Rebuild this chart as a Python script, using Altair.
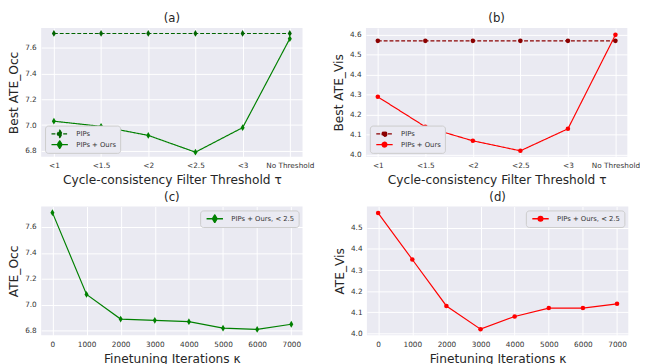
import altair as alt
import pandas as pd

thresholds = ["<1", "<1.5", "<2", "<2.5", "<3", "No Threshold"]
occ_pips = [7.71, 7.71, 7.71, 7.71, 7.71, 7.71]
occ_ours = [7.03, 6.99, 6.92, 6.79, 6.98, 7.67]
vis_pips = [4.57, 4.57, 4.57, 4.57, 4.57, 4.57]
vis_ours = [4.29, 4.14, 4.07, 4.02, 4.13, 4.60]
iters = [0, 1000, 2000, 3000, 4000, 5000, 6000, 7000]
occ_ft = [7.71, 7.08, 6.89, 6.88, 6.87, 6.82, 6.81, 6.85]
vis_ft = [4.57, 4.35, 4.13, 4.02, 4.08, 4.12, 4.12, 4.14]

series = ["PIPs", "PIPs + Ours"]
FONT = "DejaVu Sans"
W, H = 268, 132

DIAMOND = "M0,-1L0.6,0L0,1L-0.6,0Z"
LEG_DIAMOND = "M-2.1,0L2.1,0M0,-1L0.6,0L0,1L-0.6,0Z"
LEG_CIRCLE = "M-2.1,0L2.1,0M0.6,0A0.6,0.6,0,1,1,-0.6,0A0.6,0.6,0,1,1,0.6,0Z"


def legend(orient, sym):
    return alt.Legend(title=None, orient=orient, offset=4, symbolType=sym,
                      symbolSize=64, symbolStrokeWidth=1.4, labelFontSize=7,
                      labelOffset=12, symbolOffset=6, rowPadding=2, clipHeight=9,
                      padding=4, fillColor="#EAEAF2", strokeColor="#CCCCCC",
                      cornerRadius=3, labelColor="#333333", labelFont=FONT)


def thr_panel(pips, ours, title, ytitle, ydom, yvals, cols, shape, msize, lsym, pad):
    df = pd.DataFrame({"thr": thresholds * 2, "val": pips + ours,
                       "series": [series[0]] * 6 + [series[1]] * 6})
    lg = legend("bottom-left", lsym)
    return alt.Chart(df, title=title).mark_line(
        strokeWidth=1.2,
        point=alt.OverlayMarkDef(shape=shape, size=msize, filled=True, strokeWidth=0),
    ).encode(
        x=alt.X("thr:N", sort=thresholds, title="Cycle-consistency Filter Threshold τ",
                scale=alt.Scale(type="point", padding=pad),
                axis=alt.Axis(labelAngle=0)),
        y=alt.Y("val:Q", title=ytitle, scale=alt.Scale(domain=ydom, zero=False, nice=False),
                axis=alt.Axis(values=yvals, format=".1f")),
        color=alt.Color("series:N", scale=alt.Scale(domain=series, range=cols), legend=lg),
        strokeDash=alt.StrokeDash("series:N", scale=alt.Scale(domain=series, range=[[4, 2], [1, 0]]), legend=lg),
    ).properties(width=W, height=H)


def ft_panel(vals, title, ytitle, ydom, yvals, col, shape, msize, lsym):
    df = pd.DataFrame({"it": iters, "val": vals, "series": ["PIPs + Ours, < 2.5"] * len(iters)})
    return alt.Chart(df, title=title).mark_line(
        strokeWidth=1.2,
        point=alt.OverlayMarkDef(shape=shape, size=msize, filled=True, strokeWidth=0),
    ).encode(
        x=alt.X("it:Q", title="Finetuning Iterations κ",
                scale=alt.Scale(domain=[-330, 7330], nice=False, zero=False),
                axis=alt.Axis(values=iters, format="d")),
        y=alt.Y("val:Q", title=ytitle, scale=alt.Scale(domain=ydom, zero=False, nice=False),
                axis=alt.Axis(values=yvals, format=".1f")),
        color=alt.Color("series:N", scale=alt.Scale(domain=["PIPs + Ours, < 2.5"], range=[col]),
                        legend=legend("top-right", lsym)),
    ).properties(width=W, height=H)


a = thr_panel(occ_pips, occ_ours, "(a)", "Best ATE_Occ", [6.754, 7.752],
              [6.8, 7.0, 7.2, 7.4, 7.6], ["#006400", "#008000"], DIAMOND, 48, LEG_DIAMOND, 0.27)
b = thr_panel(vis_pips, vis_ours, "(b)", "Best ATE_Vis", [3.99, 4.634],
              [4.0, 4.1, 4.2, 4.3, 4.4, 4.5, 4.6], ["#8B0000", "#FF0000"], "circle", 22, LEG_CIRCLE, 0.25)
c = ft_panel(occ_ft, "(c)", "ATE_Occ", [6.765, 7.757], [6.8, 7.0, 7.2, 7.4, 7.6],
             "#008000", DIAMOND, 48, LEG_DIAMOND)
d = ft_panel(vis_ft, "(d)", "ATE_Vis", [3.991, 4.601], [4.0, 4.1, 4.2, 4.3, 4.4, 4.5],
             "#FF0000", "circle", 22, LEG_CIRCLE)

ind = dict(color="independent", strokeDash="independent")
row1 = alt.hconcat(a, b, spacing=19).resolve_scale(**ind).resolve_legend(**ind)
row2 = alt.hconcat(c, d, spacing=32).resolve_scale(**ind).resolve_legend(**ind)

chart = alt.vconcat(row1, row2, spacing=5).resolve_scale(**ind).resolve_legend(**ind).properties(
    padding=0, background="white"
).configure_view(
    fill="#EAEAF2", stroke=None
).configure_axis(
    domain=False, ticks=False, grid=True, gridColor="white", gridWidth=1,
    labelFont=FONT, labelFontSize=7.5, labelColor="#333333", labelPadding=5,
    titleFont=FONT, titleFontSize=12.5, titleFontWeight="normal", titleColor="#262626",
    titlePadding=5,
).configure_title(
    font=FONT, fontSize=12, fontWeight="normal", color="#262626", offset=3
).configure_axisY(
    minExtent=16, maxExtent=16
).configure_legend(
    labelColor="#333333", labelFontSize=7, labelFont=FONT
)

chart.save("out.html", embed_options={"renderer": "svg", "actions": False})
